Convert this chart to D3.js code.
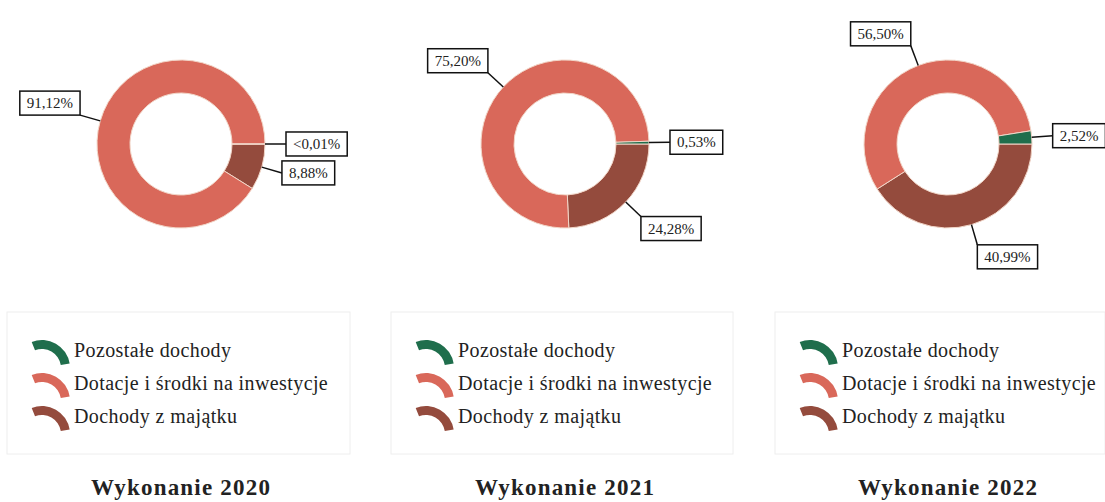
<!DOCTYPE html>
<html>
<head>
<meta charset="utf-8">
<script src="https://cdn.jsdelivr.net/npm/d3@7"></script>
<style>
	body { margin: 0; background: #fff; }
	svg { display: block; font-family: 'Liberation Serif', 'DejaVu Serif', serif; }
</style>
</head>
<body>
<svg id="chart"></svg>
<script>
// legend order of the categories
var categories = ['Pozostałe dochody', 'Dotacje i środki na inwestycje', 'Dochody z majątku'];
var titles = ['Wykonanie 2020', 'Wykonanie 2021', 'Wykonanie 2022'];
// shares in %, same order as categories (<0,01% kept as a tiny share)
var values2020 = [0.005, 91.12, 8.88];
var values2021 = [0.53, 75.20, 24.28];
var values2022 = [2.52, 56.50, 40.99];
var labels2020 = ['<0,01%', '91,12%', '8,88%'];
var labels2021 = ['0,53%', '75,20%', '24,28%'];
var labels2022 = ['2,52%', '56,50%', '40,99%'];

var colors = ['#1f6e4c', '#d9685a', '#944b3d'];

var width = 1105, height = 502;
var svg = d3.select('#chart').attr('width', width).attr('height', height);

var charts = [
	{values: values2020, labels: labels2020, title: titles[0]},
	{values: values2021, labels: labels2021, title: titles[1]},
	{values: values2022, labels: labels2022, title: titles[2]}
];

var centers = [181, 565, 948];
var cy = 144;
var outerR = 84, innerR = 51;
var legendLeft = [7, 391, 775];
var legendWidth = [343, 342, 330];

var color = d3.scaleOrdinal().domain(categories).range(colors);

// slices run clockwise from 3 o'clock, in reverse legend order
var pie = d3.pie()
	.sort(null)
	.value(function(d) { return d.value; })
	.startAngle(Math.PI / 2)
	.endAngle(Math.PI / 2 + 2 * Math.PI);

var arc = d3.arc().innerRadius(innerR).outerRadius(outerR);
var markerArc = d3.arc().innerRadius(19).outerRadius(28).startAngle(-0.12 * Math.PI).endAngle(0.45 * Math.PI);

charts.forEach(function(chart, ci) {
	var rows = categories.map(function(c, i) {
		return {category: c, value: chart.values[i], label: chart.labels[i]};
	}).reverse();

	var g = svg.append('g').attr('transform', 'translate(' + centers[ci] + ',' + cy + ')');
	var arcs = pie(rows);

	g.selectAll('path.slice')
		.data(arcs)
		.enter()
		.append('path')
		.attr('class', 'slice')
		.attr('d', arc)
		.style('fill', function(d) { return color(d.data.category); })
		.style('stroke', '#f2d6c8')
		.style('stroke-width', 1);

	// data labels with leader lines
	arcs.forEach(function(d) {
		var a = (d.startAngle + d.endAngle) / 2;
		var sx = Math.sin(a) * outerR, sy = -Math.cos(a) * outerR;
		var ex = Math.sin(a) * (outerR + 21), ey = -Math.cos(a) * (outerR + 21);

		g.append('line')
			.attr('x1', sx).attr('y1', sy)
			.attr('x2', ex).attr('y2', ey)
			.style('stroke', '#111')
			.style('stroke-width', 1.5);

		var t = g.append('text')
			.style('font-size', '15px')
			.style('fill', '#222')
			.text(d.data.label);
		var tw = t.node().getComputedTextLength();
		var bw = tw + 14, bh = 24;
		var bx, by;
		var deg = a * 180 / Math.PI;
		if (Math.abs(deg - 90) < 20 || Math.abs(deg - 450) < 20) {
			bx = ex; by = ey - bh / 2;
		} else {
			bx = ex > 0 ? ex : ex - bw;
			by = ey > 0 ? ey : ey - bh;
		}
		g.insert('rect', 'text:last-of-type')
			.attr('x', bx).attr('y', by)
			.attr('width', bw).attr('height', bh)
			.style('fill', '#fff')
			.style('stroke', '#111')
			.style('stroke-width', 1.5);
		t.attr('x', bx + bw / 2).attr('y', by + bh / 2 + 5).attr('text-anchor', 'middle').raise();
	});

	// legend
	var lx = legendLeft[ci];
	var lg = svg.append('g');
	lg.append('rect')
		.attr('x', lx).attr('y', 312)
		.attr('width', legendWidth[ci]).attr('height', 142)
		.style('fill', 'none')
		.style('stroke', '#eeeeee');

	categories.forEach(function(c, i) {
		var rowY = 350 + i * 33;
		lg.append('path')
			.attr('transform', 'translate(' + (lx + 35) + ',' + (rowY + 18) + ')')
			.attr('d', markerArc)
			.style('fill', color(c));
		lg.append('text')
			.attr('x', lx + 67).attr('y', rowY + 7)
			.style('font-size', '20px')
			.style('letter-spacing', '0.4px')
			.style('fill', '#222')
			.text(c);
	});

	svg.append('text')
		.attr('x', centers[ci]).attr('y', 495)
		.attr('text-anchor', 'middle')
		.style('font-size', '23px')
		.style('font-weight', 'bold')
		.style('fill', '#222')
		.style('letter-spacing', '1.2px')
		.text(chart.title);
});
</script>
</body>
</html>
